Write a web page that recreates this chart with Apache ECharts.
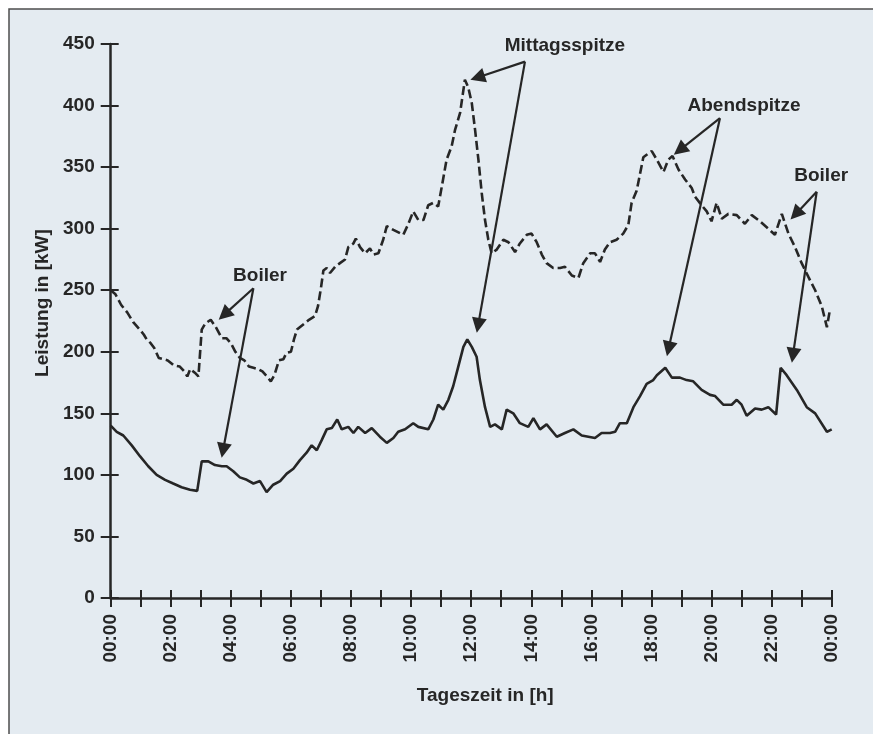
<!DOCTYPE html>
<html>
<head>
<meta charset="utf-8">
<script src="https://cdn.jsdelivr.net/npm/echarts@6/dist/echarts.min.js"></script>
<style>
  html, body { margin: 0; padding: 0; background: #ffffff; }
  #chart { width: 873px; height: 734px; }
</style>
</head>
<body>
<div id="chart"></div>
<script>
// Tageszeit [h] und Leistung [kW]
const dashedLoad = [
  [0.0, 250], [0.15, 247], [0.35, 238], [0.55, 232], [0.75, 224], [0.97, 218], [1.1, 214], [1.2, 210],
  [1.33, 207], [1.45, 203], [1.6, 195], [1.75, 194], [1.9, 193], [2.1, 189], [2.3, 188], [2.45, 184],
  [2.55, 180], [2.65, 186], [2.8, 183], [2.92, 180], [3.03, 218], [3.15, 223], [3.33, 226], [3.5, 220],
  [3.7, 211], [3.85, 211], [4.0, 207], [4.15, 200], [4.3, 195], [4.45, 193], [4.6, 188], [4.75, 187],
  [4.9, 186], [5.05, 184], [5.2, 180], [5.33, 176], [5.45, 181], [5.6, 193], [5.75, 194], [5.85, 199],
  [6.0, 200], [6.1, 210], [6.2, 218], [6.4, 222], [6.6, 226], [6.8, 229], [6.9, 237], [7.0, 252],
  [7.08, 266], [7.19, 268], [7.3, 264], [7.47, 269], [7.63, 272], [7.8, 275], [7.91, 285], [8.08, 288],
  [8.16, 292], [8.3, 285], [8.47, 280], [8.63, 284], [8.74, 279], [8.91, 280], [9.07, 291], [9.19, 302],
  [9.41, 299], [9.74, 295], [9.91, 304], [10.07, 314], [10.24, 307], [10.41, 307], [10.57, 319], [10.74, 321],
  [10.9, 318], [11.02, 334], [11.18, 356], [11.35, 367], [11.46, 380], [11.63, 394], [11.79, 421], [11.9, 415],
  [12.02, 402], [12.13, 380], [12.24, 356], [12.35, 329], [12.46, 307], [12.57, 291], [12.68, 280], [12.85, 283],
  [13.07, 291], [13.24, 289], [13.46, 281], [13.62, 288], [13.85, 295], [14.01, 296], [14.18, 289], [14.35, 279],
  [14.51, 272], [14.73, 268], [14.96, 268], [15.12, 269], [15.35, 262], [15.57, 260], [15.73, 272], [15.96, 280],
  [16.12, 280], [16.29, 273], [16.45, 283], [16.62, 289], [16.84, 291], [17.06, 296], [17.23, 303], [17.34, 321],
  [17.51, 331], [17.73, 358], [17.84, 360], [18.01, 363], [18.18, 356], [18.4, 346], [18.56, 356], [18.7, 359],
  [18.9, 348], [19.12, 340], [19.34, 333], [19.45, 326], [19.67, 319], [19.84, 314], [20.0, 306], [20.17, 321],
  [20.34, 308], [20.56, 312], [20.84, 311], [21.11, 304], [21.34, 311], [21.61, 306], [21.89, 300], [22.11, 295],
  [22.34, 312], [22.56, 296], [22.78, 285], [23.0, 272], [23.22, 261], [23.45, 250], [23.67, 237], [23.84, 220],
  [23.94, 234]
];

const solidLoad = [
  [0.0, 140], [0.2, 135], [0.42, 132], [0.7, 124], [0.98, 115], [1.25, 107], [1.53, 100], [1.81, 96],
  [2.08, 93], [2.36, 90], [2.64, 88], [2.88, 87], [3.03, 111], [3.25, 111], [3.47, 108], [3.7, 107],
  [3.86, 107], [4.08, 103], [4.3, 98], [4.53, 96], [4.75, 93], [4.97, 95], [5.19, 86], [5.41, 92],
  [5.64, 95], [5.86, 101], [6.08, 105], [6.3, 112], [6.52, 118], [6.69, 124], [6.86, 120], [7.02, 128],
  [7.19, 137], [7.36, 138], [7.54, 145], [7.69, 137], [7.91, 139], [8.08, 134], [8.24, 139], [8.47, 134],
  [8.69, 138], [8.96, 131], [9.19, 126], [9.41, 130], [9.57, 135], [9.8, 137], [10.07, 142], [10.24, 139],
  [10.57, 137], [10.74, 145], [10.9, 157], [11.07, 153], [11.24, 161], [11.4, 172], [11.57, 188], [11.74, 204],
  [11.87, 210], [12.02, 204], [12.18, 196], [12.29, 177], [12.46, 155], [12.63, 139], [12.79, 141], [13.02, 137],
  [13.18, 153], [13.4, 150], [13.62, 142], [13.9, 139], [14.07, 146], [14.29, 137], [14.51, 141], [14.85, 131],
  [15.12, 134], [15.4, 137], [15.68, 132], [15.9, 131], [16.12, 130], [16.34, 134], [16.62, 134], [16.79, 135],
  [16.95, 142], [17.18, 142], [17.4, 155], [17.62, 164], [17.84, 174], [18.06, 177], [18.18, 181], [18.46, 187],
  [18.68, 179], [18.95, 179], [19.17, 177], [19.39, 176], [19.67, 169], [19.95, 165], [20.12, 164], [20.39, 157],
  [20.67, 157], [20.84, 161], [21.0, 157], [21.17, 148], [21.45, 154], [21.67, 153], [21.89, 155], [22.15, 149],
  [22.3, 187], [22.5, 181], [22.84, 169], [23.17, 155], [23.45, 150], [23.84, 135], [24.0, 137]
];

// Beschriftungen (Mittelpunkt in Datenkoordinaten)
const noteNames = ['Mittagsspitze', 'Abendspitze', 'Boiler', 'Boiler'];
const noteCoords = [[15.12, 448.8], [21.08, 400], [23.65, 343], [4.97, 262]];
// Pfeile: Start (an der Beschriftung) -> Ziel
const arrowFrom = [[13.79, 435.7], [13.79, 435.7], [20.28, 389.7], [20.28, 389.7], [23.5, 330], [23.5, 330], [4.75, 251.6], [4.75, 251.6]];
const arrowTo = [[12.21, 422.8], [12.23, 221.4], [18.94, 363.8], [18.57, 202.4], [22.8, 311.8], [22.71, 197.1], [3.78, 230.2], [3.74, 119.9]];

const yMax = 450;
const yStep = 50;
const xMax = 24;

const ink = '#262626';
const font = "'Liberation Sans', Arial, Helvetica, sans-serif";

const hourLabel = v => {
  if (v % 2 !== 0) return '';
  const h = v % 24;
  return (h < 10 ? '0' : '') + h + ':00';
};

const chart = echarts.init(document.getElementById('chart'), null, { renderer: 'canvas' });

const xBase = {
  type: 'value', min: 0, max: xMax, interval: 1, position: 'bottom'
};
const yBase = {
  type: 'value', min: 0, max: yMax, interval: yStep, position: 'left'
};

const option = {
  animation: false,
  backgroundColor: '#ffffff',
  graphic: [{
    type: 'rect',
    z: -10,
    shape: { x: 9, y: 9, width: 880, height: 740 },
    style: { fill: '#e4ebf1', stroke: '#4d4d4d', lineWidth: 1.5 }
  }],
  grid: { left: 110.7, right: 41.3, top: 44, bottom: 136 },
  xAxis: [
    Object.assign({}, xBase, {
      name: 'Tageszeit in [h]',
      nameLocation: 'middle',
      nameGap: 88,
      nameTextStyle: { color: ink, fontSize: 19, fontWeight: 'bold', fontFamily: font, padding: [0, 0, 0, 28] },
      axisLine: { show: true, lineStyle: { color: ink, width: 2.5 } },
      axisTick: { show: true, length: 9, interval: 0, lineStyle: { color: ink, width: 2 } },
      axisLabel: {
        show: true, rotate: 90, margin: 16, interval: 0, formatter: hourLabel,
        color: ink, fontSize: 19, fontWeight: 'bold', fontFamily: font
      },
      splitLine: { show: false }
    }),
    Object.assign({}, xBase, {
      axisLine: { show: false },
      axisTick: { show: true, inside: true, length: 8, interval: 0, lineStyle: { color: ink, width: 2 } },
      axisLabel: { show: false },
      splitLine: { show: false }
    })
  ],
  yAxis: [
    Object.assign({}, yBase, {
      name: 'Leistung in [kW]',
      nameLocation: 'middle',
      nameGap: 58,
      nameTextStyle: { color: ink, fontSize: 19, fontWeight: 'bold', fontFamily: font, padding: [0, 0, 0, 36] },
      axisLine: { show: true, lineStyle: { color: ink, width: 2.5 } },
      axisTick: { show: true, length: 10, lineStyle: { color: ink, width: 2 } },
      axisLabel: { show: true, margin: 16, color: ink, fontSize: 19, fontWeight: 'bold', fontFamily: font },
      splitLine: { show: false }
    }),
    Object.assign({}, yBase, {
      axisLine: { show: false },
      axisTick: { show: true, inside: true, length: 8, lineStyle: { color: ink, width: 2 } },
      axisLabel: { show: false },
      splitLine: { show: false }
    })
  ],
  series: [
    {
      type: 'line',
      data: dashedLoad,
      showSymbol: false,
      symbol: 'none',
      lineStyle: { color: ink, width: 2.6, type: [9, 4] },
      z: 3
    },
    {
      type: 'line',
      data: solidLoad,
      showSymbol: false,
      symbol: 'none',
      lineStyle: { color: ink, width: 2.6 },
      z: 3,
      markLine: {
        silent: true,
        symbol: ['none', 'triangle'],
        symbolSize: 15,
        label: { show: false },
        lineStyle: { color: ink, width: 2.2, type: 'solid' },
        itemStyle: { color: ink },
        data: arrowFrom.map((from, i) => [{ coord: from }, { coord: arrowTo[i] }])
      },
      markPoint: {
        silent: true,
        symbol: 'circle',
        symbolSize: 1,
        itemStyle: { color: 'transparent' },
        label: {
          show: true, position: 'inside', formatter: '{b}',
          color: ink, fontSize: 19, fontWeight: 'bold', fontFamily: font
        },
        data: noteNames.map((name, i) => ({ name: name, coord: noteCoords[i] }))
      }
    }
  ]
};

chart.setOption(option);
</script>
</body>
</html>
